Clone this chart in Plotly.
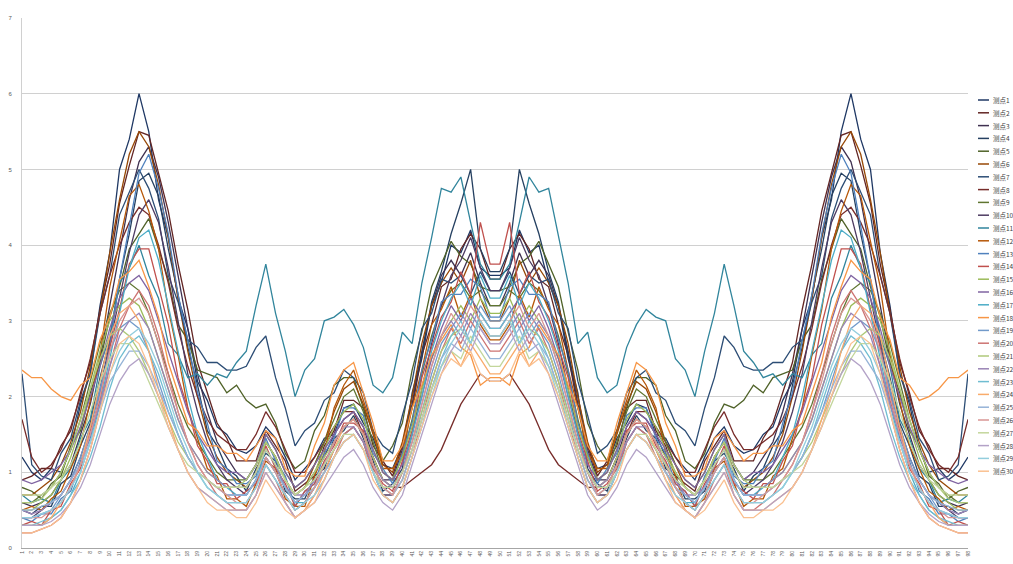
import plotly.graph_objects as go

# ---------------- data (left half of each symmetric curve; right half is its mirror) ----------------
categories = [str(i) for i in range(1, 99)]
y_ticks = [0, 1, 2, 3, 4, 5, 6, 7]

s01 = [1.2,1.0,0.9,1.05,1.0,1.3,1.9,2.3,3.2,3.9, 5.0,5.4,6.0,5.5,4.6,4.1,3.3,2.9,2.2,1.95, 1.6,1.5,1.3,1.25,1.35,1.6,1.45,1.2,0.9,1.05, 1.2,1.45,1.5,1.85,1.9,1.65,1.45,1.1,1.05,1.35, 2.0,2.5,3.2,3.5,4.0,3.9,4.2,3.7,3.6]
s02 = [0.9,0.95,1.05,1.05,1.35,1.55,2.05,2.45,3.15,3.75, 4.55,5.05,5.5,5.45,4.95,4.45,3.75,3.15,2.45,2.05, 1.65,1.45,1.15,1.15,1.15,1.55,1.35,1.15,0.75,0.85, 0.95,1.35,1.55,1.95,1.95,1.85,1.35,1.15,0.95,1.35, 1.85,2.55,2.95,3.45,3.55,3.95,4.15,3.95,3.55]
s03 = [0.6,0.55,0.6,0.7,0.9,1.1,1.5,1.9,2.5,3.2, 3.9,4.6,5.1,5.3,4.9,4.3,3.6,2.9,2.3,1.8, 1.4,1.2,1.0,0.9,1.1,1.4,1.2,0.9,0.7,0.8, 1.0,1.2,1.5,1.7,1.8,1.6,1.2,0.9,0.9,1.3, 1.9,2.6,3.2,3.6,3.8,3.6,3.9,3.5,3.2]
s04 = [0.5,0.45,0.55,0.55,0.85,0.95,1.35,1.65,2.25,2.75, 3.55,4.15,4.85,4.95,4.65,3.95,3.35,2.65,2.15,1.55, 1.35,1.05,0.95,0.75,1.05,1.25,1.15,0.75,0.65,0.65, 0.95,1.05,1.45,1.55,1.75,1.45,1.15,0.75,0.85,1.05, 2.05,2.55,3.25,3.65,4.15,4.55,5.0,3.95,3.65]
s05 = [0.8,0.75,0.65,0.85,0.95,1.35,1.55,2.05,2.45,3.05, 3.45,3.95,4.15,4.35,3.95,3.55,2.95,2.75,2.35,2.3, 2.25,2.05,2.15,1.95,1.85,1.9,1.65,1.25,1.05,1.15, 1.55,1.75,2.15,2.25,2.25,1.85,1.55,1.15,1.35,1.65, 2.35,2.85,3.45,3.75,4.05,3.85,3.75,3.45,3.4]
s06 = [0.7,0.7,0.8,0.9,1.1,1.4,1.8,2.4,3.1,3.9, 4.6,5.2,5.5,5.3,4.8,4.1,3.3,2.6,2.0,1.5, 1.2,1.0,0.9,0.8,1.0,1.4,1.2,0.9,0.7,0.8, 1.1,1.4,1.8,2.1,2.2,1.9,1.5,1.1,1.0,1.4, 2.0,2.7,3.2,3.5,3.7,3.5,3.8,3.3,3.0]
s07 = [2.3,1.1,0.95,0.9,1.25,1.45,1.95,2.3,3.1,3.6, 4.4,4.7,5.0,4.75,4.35,3.6,3.25,2.75,2.65,2.45, 2.45,2.35,2.35,2.4,2.65,2.8,2.25,1.85,1.35,1.55, 1.65,1.95,2.05,2.35,2.25,2.05,1.55,1.35,1.25,1.75, 2.2,2.9,3.1,3.55,3.5,3.6,3.35,3.65,3.4]
s08 = [1.7,1.2,1.0,1.1,1.3,1.6,2.0,2.5,3.1,3.6, 4.0,4.3,4.5,4.4,4.0,3.5,2.9,2.4,2.0,1.7, 1.5,1.4,1.3,1.3,1.5,1.8,1.6,1.3,1.0,1.0, 1.2,1.4,1.6,1.8,1.8,1.5,1.2,0.9,0.8,0.8, 0.9,1.0,1.1,1.3,1.6,1.9,2.1,2.3,2.2]
s09 = [0.6,0.6,0.7,0.8,1.0,1.3,1.7,2.2,2.7,3.1, 3.4,3.5,3.4,3.1,2.7,2.3,1.9,1.6,1.4,1.2, 1.0,0.9,0.9,0.9,1.1,1.5,1.3,1.0,0.8,0.9, 1.1,1.4,1.7,2.0,2.1,1.8,1.4,1.0,0.9,1.2, 1.7,2.3,2.8,3.2,3.4,3.5,3.3,3.4,3.2]
s10 = [0.4,0.4,0.5,0.6,0.7,0.9,1.2,1.6,2.1,2.7, 3.3,3.9,4.4,4.6,4.3,3.7,3.0,2.3,1.8,1.4, 1.1,0.9,0.8,0.7,0.9,1.2,1.0,0.7,0.5,0.6, 0.8,1.0,1.3,1.5,1.6,1.4,1.0,0.7,0.7,1.0, 1.5,2.1,2.7,3.2,3.6,3.8,4.1,3.7,3.4]
s11 = [0.7,0.6,0.65,0.6,0.9,1.05,1.45,1.7,2.4,2.8, 3.5,3.7,4.0,3.6,3.3,2.7,2.55,2.25,2.3,2.15, 2.3,2.25,2.45,2.6,3.2,3.75,3.1,2.6,2.0,2.35, 2.5,3.0,3.05,3.15,2.95,2.65,2.15,2.05,2.25,2.85, 2.7,3.5,4.1,4.75,4.7,4.9,4.3,3.75,3.55]
s12 = [0.5,0.55,0.5,0.65,0.75,1.05,1.35,1.95,2.55,3.45, 4.05,4.65,4.8,4.45,3.95,3.15,2.55,1.85,1.45,1.05, 0.95,0.65,0.65,0.55,0.85,1.15,1.05,0.65,0.55,0.55, 0.95,1.25,1.85,2.15,2.35,1.95,1.55,1.05,1.05,1.25, 1.85,2.35,2.95,3.15,3.45,3.05,3.35,2.95,2.75]
s13 = [0.4,0.35,0.45,0.45,0.65,0.75,1.15,1.45,2.05,2.65, 3.55,4.25,4.95,5.2,4.75,4.15,3.35,2.75,2.05,1.65, 1.15,1.05,0.85,0.85,0.95,1.45,1.15,0.95,0.55,0.75, 0.85,1.25,1.45,1.85,1.85,1.75,1.25,1.05,0.85,1.25, 1.65,2.35,2.75,3.25,3.35,3.35,3.55,3.45,3.05]
s14 = [0.3,0.35,0.3,0.5,0.55,0.85,1.05,1.55,1.95,2.65, 3.15,3.75,3.95,3.95,3.45,2.95,2.25,1.85,1.35,1.15, 0.85,0.85,0.65,0.75,0.85,1.35,1.05,0.85,0.55,0.75, 0.85,1.15,1.35,1.65,1.65,1.55,1.05,0.85,0.75,1.15, 1.55,2.25,2.65,3.05,3.25,3.65,3.35,4.3,3.75]
s15 = [0.5,0.5,0.6,0.7,0.9,1.2,1.6,2.1,2.6,3.0, 3.2,3.3,3.2,2.9,2.5,2.1,1.7,1.4,1.2,1.0, 0.9,0.8,0.8,0.8,1.0,1.4,1.2,0.9,0.7,0.8, 1.0,1.3,1.6,1.8,1.9,1.7,1.3,1.0,0.9,1.2, 1.6,2.1,2.5,2.8,3.0,3.2,3.0,3.3,3.1]
s16 = [0.9,0.85,0.9,1.0,1.1,1.3,1.6,2.0,2.4,2.9, 3.3,3.5,3.6,3.4,3.0,2.6,2.2,1.8,1.5,1.3, 1.1,1.0,1.0,0.9,1.1,1.5,1.3,1.0,0.8,0.9, 1.1,1.3,1.5,1.7,1.8,1.6,1.3,1.0,0.9,1.1, 1.5,2.0,2.5,2.9,3.2,3.0,3.3,3.1,2.9]
s17 = [0.3,0.3,0.3,0.4,0.5,0.7,1.0,1.4,1.9,2.5, 3.1,3.7,4.1,4.2,3.8,3.2,2.6,2.0,1.5,1.2, 0.9,0.8,0.7,0.7,0.9,1.3,1.1,0.8,0.6,0.6, 0.8,1.1,1.4,1.6,1.7,1.5,1.1,0.8,0.8,1.0, 1.5,2.0,2.6,3.0,3.3,3.5,3.2,3.6,3.3]
s18 = [2.35,2.25,2.25,2.1,2.0,1.95,2.15,2.25,2.75,3.05, 3.55,3.65,3.8,3.45,3.05,2.45,2.05,1.65,1.55,1.35, 1.35,1.25,1.25,1.15,1.35,1.55,1.45,1.05,0.95,0.95, 1.35,1.65,2.15,2.35,2.45,2.05,1.65,1.15,1.15,1.35, 1.85,2.15,2.55,2.75,2.95,2.65,2.55,2.15,2.25]
s19 = [0.4,0.4,0.45,0.5,0.7,0.9,1.2,1.6,2.1,2.6, 2.9,3.0,2.9,2.6,2.2,1.8,1.5,1.2,1.0,0.9, 0.8,0.7,0.7,0.7,0.9,1.2,1.0,0.8,0.6,0.7, 0.9,1.1,1.3,1.5,1.6,1.4,1.1,0.8,0.7,0.9, 1.3,1.8,2.3,2.7,2.9,3.1,2.9,3.2,3.0]
s20 = [0.2,0.2,0.25,0.3,0.4,0.6,0.9,1.3,1.8,2.4, 2.9,3.2,3.4,3.2,2.8,2.3,1.8,1.4,1.1,0.9, 0.7,0.6,0.5,0.5,0.7,1.1,0.9,0.6,0.4,0.5, 0.7,0.9,1.2,1.5,1.6,1.4,1.0,0.7,0.6,0.8, 1.2,1.7,2.2,2.6,2.9,2.7,3.0,2.8,2.6]
s21 = [0.6,0.6,0.65,0.8,1.0,1.3,1.7,2.1,2.5,2.8, 2.9,2.8,2.6,2.3,2.0,1.7,1.4,1.2,1.0,0.9, 0.8,0.8,0.8,0.9,1.1,1.4,1.2,0.9,0.7,0.8, 1.0,1.2,1.4,1.6,1.7,1.5,1.2,0.9,0.8,1.0, 1.4,1.8,2.2,2.6,2.8,2.9,2.7,3.0,2.8]
s22 = [0.5,0.45,0.5,0.6,0.7,0.9,1.1,1.5,1.9,2.4, 2.8,3.0,3.1,2.9,2.5,2.1,1.7,1.4,1.2,1.0, 0.9,0.8,0.8,0.8,1.0,1.3,1.1,0.8,0.7,0.7, 0.9,1.1,1.4,1.6,1.6,1.4,1.1,0.9,0.8,1.0, 1.4,1.9,2.4,2.8,3.0,2.8,3.1,2.9,2.7]
s23 = [0.3,0.3,0.35,0.4,0.5,0.7,0.9,1.2,1.6,2.1, 2.5,2.7,2.8,2.6,2.3,1.9,1.5,1.2,1.0,0.8, 0.7,0.6,0.6,0.6,0.8,1.1,0.9,0.7,0.5,0.6, 0.8,1.0,1.2,1.4,1.5,1.3,1.0,0.7,0.6,0.8, 1.2,1.6,2.1,2.5,2.8,3.0,2.7,3.1,2.9]
s24 = [0.3,0.3,0.3,0.4,0.6,0.8,1.1,1.6,2.2,2.8, 3.1,3.2,3.0,2.6,2.1,1.7,1.3,1.0,0.8,0.7, 0.6,0.5,0.5,0.5,0.7,1.0,0.8,0.6,0.4,0.5, 0.7,1.0,1.3,1.6,1.7,1.5,1.1,0.8,0.7,0.9, 1.3,1.7,2.1,2.4,2.6,2.4,2.7,2.5,2.3]
s25 = [0.5,0.5,0.55,0.6,0.7,0.9,1.1,1.4,1.8,2.2, 2.4,2.6,2.6,2.4,2.1,1.8,1.5,1.2,1.0,0.9, 0.8,0.7,0.7,0.7,0.9,1.2,1.0,0.8,0.6,0.7, 0.8,1.0,1.2,1.4,1.5,1.3,1.0,0.8,0.7,0.9, 1.3,1.7,2.1,2.5,2.7,2.6,2.9,2.7,2.5]
s26 = [0.4,0.4,0.4,0.5,0.6,0.8,1.1,1.5,2.0,2.6, 3.0,3.2,3.3,3.1,2.7,2.2,1.8,1.4,1.1,0.9, 0.8,0.7,0.6,0.6,0.8,1.2,1.0,0.7,0.5,0.6, 0.8,1.1,1.4,1.6,1.7,1.5,1.1,0.8,0.7,1.0, 1.4,1.9,2.4,2.8,3.1,2.9,3.2,3.0,2.8]
s27 = [0.7,0.7,0.7,0.8,0.9,1.1,1.4,1.8,2.2,2.5, 2.7,2.7,2.5,2.2,1.9,1.6,1.3,1.1,1.0,0.9, 0.8,0.8,0.8,0.8,1.0,1.3,1.1,0.9,0.7,0.8, 0.9,1.1,1.3,1.5,1.5,1.3,1.0,0.8,0.8,1.0, 1.3,1.7,2.1,2.4,2.6,2.5,2.8,2.6,2.4]
s28 = [0.3,0.3,0.3,0.35,0.45,0.6,0.8,1.1,1.5,1.9, 2.2,2.4,2.5,2.3,2.0,1.6,1.3,1.0,0.8,0.7, 0.6,0.5,0.5,0.5,0.7,1.0,0.8,0.6,0.4,0.5, 0.6,0.8,1.0,1.2,1.3,1.1,0.8,0.6,0.5,0.7, 1.1,1.5,1.9,2.3,2.6,2.8,2.6,2.9,2.7]
s29 = [0.4,0.4,0.45,0.5,0.6,0.8,1.0,1.4,1.8,2.3, 2.6,2.8,2.9,2.7,2.4,2.0,1.6,1.3,1.0,0.8, 0.7,0.6,0.6,0.6,0.8,1.1,0.9,0.7,0.5,0.6, 0.7,0.9,1.2,1.4,1.5,1.3,1.0,0.7,0.6,0.8, 1.2,1.6,2.0,2.4,2.7,2.9,2.7,3.0,2.8]
s30 = [0.2,0.2,0.25,0.3,0.4,0.6,0.9,1.3,1.8,2.3, 2.7,2.8,2.7,2.4,2.0,1.6,1.3,1.0,0.8,0.6, 0.5,0.5,0.4,0.4,0.6,0.9,0.7,0.5,0.4,0.5, 0.6,0.9,1.2,1.4,1.5,1.3,0.9,0.7,0.6,0.8, 1.2,1.6,2.0,2.3,2.5,2.4,2.6,2.3,2.2]

halves = [s01, s02, s03, s04, s05, s06, s07, s08, s09, s10,
          s11, s12, s13, s14, s15, s16, s17, s18, s19, s20,
          s21, s22, s23, s24, s25, s26, s27, s28, s29, s30]
names = ["测点" + str(i) for i in range(1, 31)]
colors = ["#1F3864", "#632523", "#3F3151", "#254061", "#4F6228", "#974806",
          "#2C4D75", "#772C2A", "#5F7530", "#4D3B62", "#31859C", "#B65708",
          "#4F81BD", "#C0504D", "#9BBB59", "#8064A2", "#4BACC6", "#F79646",
          "#729ACA", "#CD7371", "#AFC97A", "#9983B5", "#6FBDD1", "#F9AB6B",
          "#95B3D7", "#D99694", "#C3D69B", "#B3A2C7", "#93CDDD", "#FAC090"]

# ---------------- figure ----------------
W, H = 1013, 564
L, R, T, B = 22, 45, 18, 16
pw, ph = W - L - R, H - T - B

fig = go.Figure()
for half, name, col in zip(halves, names, colors):
    full = half + half[::-1]
    fig.add_trace(go.Scatter(x=categories, y=full, mode="lines", name=name,
                             line=dict(color=col, width=1.3), showlegend=False))

# manual legend (compact, like the original)
shapes, annos = [], []
for k, (name, col) in enumerate(zip(names, colors)):
    py = 100 + k * 12.8
    yp = (H - B - py) / ph
    shapes.append(dict(type="line", xref="paper", yref="paper",
                       x0=(978 - L) / pw, x1=(989 - L) / pw, y0=yp, y1=yp,
                       line=dict(color=col, width=1.5)))
    annos.append(dict(xref="paper", yref="paper", x=(991 - L) / pw, y=yp,
                      text=name, showarrow=False, xanchor="left", yanchor="middle",
                      font=dict(size=6.5, color="#404040", family="Noto Sans CJK SC")))

fig.update_layout(
    width=W, height=H,
    margin=dict(l=L, r=R, t=T, b=B, autoexpand=False),
    paper_bgcolor="white", plot_bgcolor="white",
    shapes=shapes, annotations=annos,
    xaxis=dict(type="category", range=[0, len(categories) - 1],
               tickmode="linear", tick0=0, dtick=1, tickangle=-90,
               tickfont=dict(size=5, color="#595959", family="Liberation Sans"),
               showgrid=False, showline=True, linecolor="#A6A6A6", linewidth=1,
               ticks="", zeroline=False),
    yaxis=dict(range=[0, 7], tickvals=y_ticks,
               tickfont=dict(size=6, color="#595959", family="Liberation Sans"),
               showgrid=True, gridcolor="#D0D0D0", gridwidth=1,
               showline=True, linecolor="#D0D0D0", ticks="", zeroline=False,
               ticklabelstandoff=8),
)

fig.write_html("out.html", config={"displayModeBar": False},
               post_script="document.body.style.margin='0';")
